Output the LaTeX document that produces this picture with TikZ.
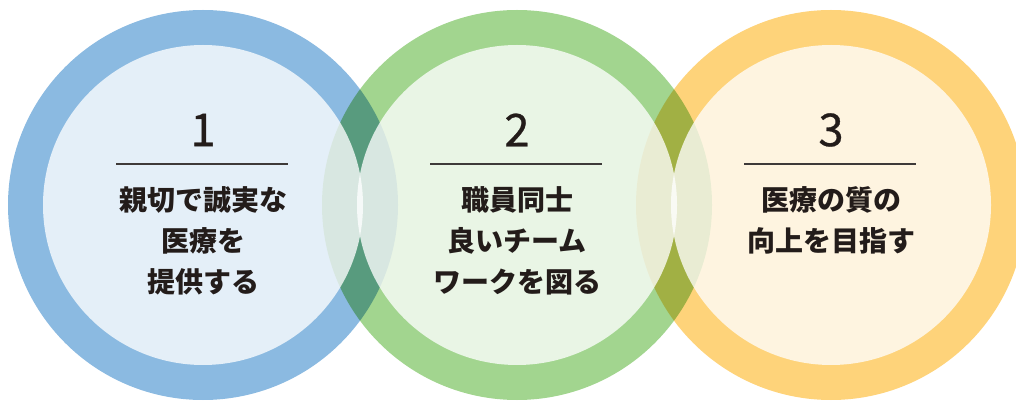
\documentclass[tikz,border=0pt]{standalone}
\usepackage{fontspec}
\newfontfamily\jpfont{Noto Sans CJK JP}
\newfontfamily\numfont{Noto Sans CJK JP}[FakeBold=0.6]
\usetikzlibrary{calc}
\definecolor{ringblue}{RGB}{139,186,225}
\definecolor{ringgreen}{RGB}{162,213,143}
\definecolor{ringorange}{RGB}{254,211,122}
\definecolor{inkdark}{RGB}{35,28,26}
\definecolor{rulegray}{RGB}{62,58,57}

\begin{document}
\begin{tikzpicture}[x=0.75pt,y=0.75pt,
    inner disc/.style={fill=white, fill opacity=0.77},
    number/.style={inner sep=0pt, text=inkdark, font=\numfont\fontsize{34}{34}\selectfont},
    label text/.style={inner sep=0pt, align=center, text=inkdark, font=\jpfont\bfseries\fontsize{21}{30.75}\selectfont},
    under rule/.style={draw=rulegray, line width=0.9pt}]
    \clip (0,0) rectangle (1016,400);

    % coloured rings, multiplied where they overlap
    \begin{scope}[blend group=multiply]
      \fill [ringblue] (203,195) circle (195);
      \fill [ringgreen] (517,195) circle (195);
      \fill [ringorange] (831,195) circle (195);
    \end{scope}

    % pale centres
    \fill [inner disc] (203,195) circle (160);
    \fill [inner disc] (517,195) circle (160);
    \fill [inner disc] (831,195) circle (160);

    % numbers and rules
    \node [number] (num1) at (203,270) {1};
    \node [number] (num2) at (517,270) {2};
    \node [number] (num3) at (831,270) {3};

    \coordinate (rule1a) at (116,236);
    \coordinate (rule1b) at (288,236);
    \coordinate (rule2a) at (430,236);
    \coordinate (rule2b) at (602,236);
    \coordinate (rule3a) at (744,236);
    \coordinate (rule3b) at (916,236);
    \draw [under rule] (rule1a) -- (rule1b);
    \draw [under rule] (rule2a) -- (rule2b);
    \draw [under rule] (rule3a) -- (rule3b);

    % texts
    \node [label text] (text1) at (203,159) {親切で誠実な\\医療を\\提供する};
    \node [label text] (text2) at (517,159) {職員同士\\良いチーム\\ワークを図る};
    \node [label text] (text3) at (831,179.5) {医療の質の\\向上を目指す};
  \end{tikzpicture}
\end{document}
